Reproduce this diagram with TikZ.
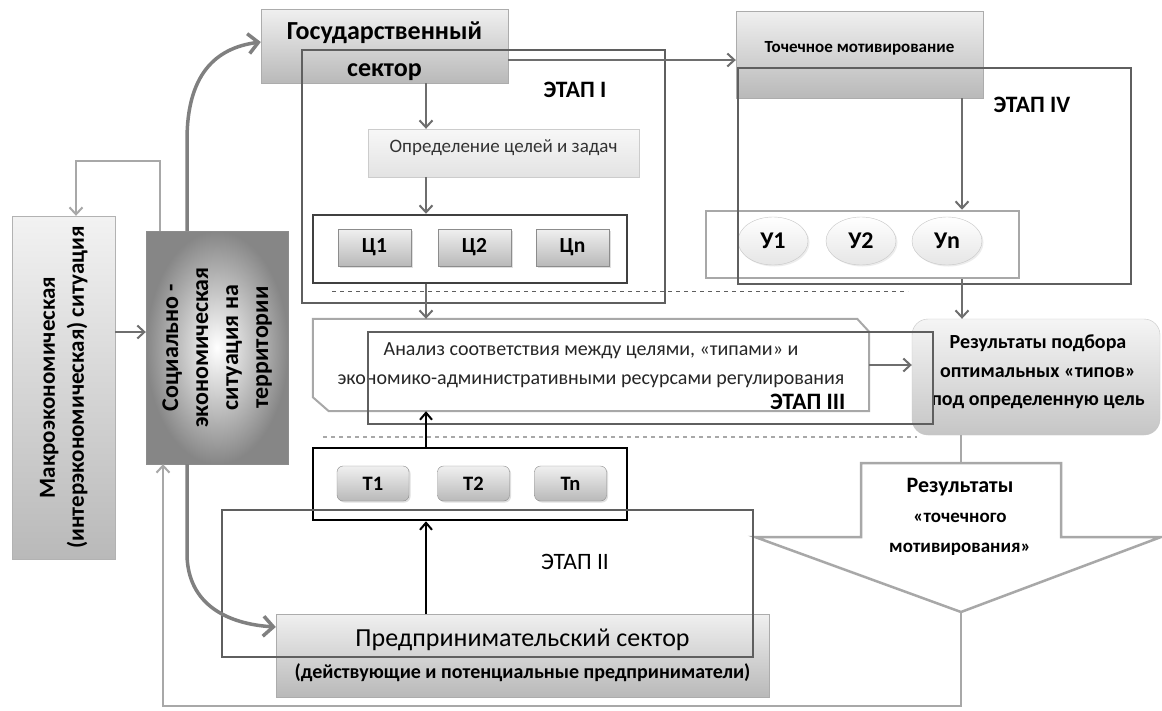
\documentclass[tikz,border=0pt]{standalone}
\usepackage{fontspec}
\setmainfont{Carlito}
\usepackage{graphicx}
\usepackage{tikz}
\usetikzlibrary{arrows.meta,shadows}
\usetikzlibrary{shapes.geometric}
\definecolor{frm}{HTML}{5F5F5F}
\definecolor{lgt}{HTML}{A8A8A8}
\definecolor{con}{HTML}{6E6E6E}
\def\stageone{(302,50) rectangle (665,303)}
\def\stagetwo{(222,510) rectangle (753,657)}
\def\stagethree{(368,332) rectangle (933,424)}
\def\stagefour{(738,68) rectangle (1131,284)}
\tikzset{
  shbox/.style={draw=gray!65, top color=gray!12, bottom color=gray!55, inner sep=0pt},
  cbox/.style={shbox, draw=gray!90, minimum width=73pt, minimum height=37pt,
    font=\bfseries\fontsize{21.5}{24}\selectfont,
    drop shadow={opacity=0.25,shadow xshift=1.5pt,shadow yshift=-1.5pt}},
  tbox/.style={cbox, rounded corners=6pt, minimum width=72pt, minimum height=35pt,
    font=\bfseries\fontsize{20.5}{24}\selectfont},
  ubox/.style={ellipse, draw=gray!45, top color=white, bottom color=gray!20, inner sep=0pt,
    minimum width=70pt, minimum height=48pt, font=\bfseries\fontsize{24}{28}\selectfont,
    drop shadow={opacity=0.15,shadow xshift=1.5pt,shadow yshift=-1.5pt}},
  stage/.style={draw=frm, line width=2.5pt},
  stagelbl/.style={font=\bfseries\fontsize{23.5}{26}\selectfont},
  conn/.style={draw=con, line width=2pt, -{Straight Barb[length=7pt,width=13pt]}},
  fback/.style={draw=lgt, line width=2pt, -{Straight Barb[length=7pt,width=13pt]}},
  bigconn/.style={draw=gray, line width=3.5pt, -{Straight Barb[length=10pt,width=20pt]}},
  blk/.style={draw=black, line width=2pt, -{Straight Barb[length=7pt,width=12pt]}}
}
\begin{document}
\begin{tikzpicture}[x=1pt,y=-1pt]
  \fill[white] (0,0) rectangle (1162,710);
  \useasboundingbox (0,0) rectangle (1162,710);

  % left column
  \node[draw=gray!60, top color=gray!10, bottom color=gray!55, minimum width=103pt,
        minimum height=343pt, inner sep=0pt, font=\bfseries\fontsize{23}{29}\selectfont]
        (mac) at (63.5,387.5)
        {\rotatebox{90}{\begin{tabular}{@{}c@{}}Макроэкономическая\\(интерэкономическая) ситуация\end{tabular}}};
  \node[draw=gray!90, inner color=white, outer color=gray!95, minimum width=142pt,
        minimum height=233pt, inner sep=0pt, font=\bfseries\fontsize{24}{30}\selectfont]
        (soc) at (217,347.5)
        {\rotatebox{90}{\begin{tabular}{@{}c@{}}Социально -\\экономическая\\ситуация на\\территории\end{tabular}}};

  % sectors
  \node[shbox, minimum width=247pt, minimum height=74pt] (gos) at (384.5,46) {};
  \node[align=center, font=\bfseries\fontsize{26}{37}\selectfont] (gostxt) at (384.5,51)
        {Государственный\\сектор};
  \node[shbox, minimum width=247pt, minimum height=87pt, text height=12pt, text depth=17pt,
        font=\bfseries\fontsize{17}{20}\selectfont] (toch) at (859.5,54.5) {Точечное мотивирование};
  \node[shbox, top color=gray!6, bottom color=gray!22, draw=gray!40, minimum width=271pt,
        minimum height=48pt, text height=13pt, text depth=14pt, text=black!80,
        font=\fontsize{19}{22}\selectfont] (def) at (503.5,153) {Определение целей и задач};
  \node[shbox, minimum width=493pt, minimum height=83pt, align=center,
        font=\bfseries\fontsize{20}{32}\selectfont] (entr) at (522.5,655.5)
        {{\mdseries\fontsize{26}{32}\selectfont Предпринимательский сектор}\\(действующие и потенциальные предприниматели)};

  % goals, types, instruments
  \node[cbox] (c1) at (374.5,247.5) {Ц1};
  \node[cbox] (c2) at (474.5,247.5) {Ц2};
  \node[cbox] (cn) at (572.5,247.5) {Цn};
  \node[draw=black!75, line width=2.5pt, minimum width=314pt, minimum height=68pt] (cgrp) at (470,249) {};
  \node[tbox] (t1) at (373,483.5) {Т1};
  \node[tbox] (t2) at (473.5,483.5) {Т2};
  \node[tbox] (tn) at (570.5,483.5) {Тn};
  \node[draw=black, line width=2.5pt, minimum width=314pt, minimum height=72pt] (tgrp) at (470,484) {};
  \node[ubox] (u1) at (773,241) {У1};
  \node[ubox] (u2) at (861,241) {У2};
  \node[ubox] (un) at (947,241) {Уn};
  \node[draw=lgt, line width=2.5pt, minimum width=313pt, minimum height=67pt] (ugrp) at (862.5,244.5) {};

  % analysis
  \node[minimum width=556pt, minimum height=92pt, inner sep=0pt, align=center, text=black!85,
        font=\fontsize{20}{29}\selectfont] (ana) at (591,365)
        {Анализ соответствия между целями, «типами» и\\экономико-административными ресурсами регулирования};
  \draw[draw=lgt, line width=2pt] (ana.north west) -- ([xshift=-12pt]ana.north east)
        -- ([yshift=-13pt]ana.north east) -- (ana.south east)
        -- ([xshift=16pt]ana.south west) -- ([yshift=14pt]ana.south west) -- cycle;
  \node[shbox, rounded corners=16pt, top color=gray!8, bottom color=gray!45, draw=gray!45,
        minimum width=248pt, minimum height=116pt] (rez) at (1036,377) {};
  \node[align=center, font=\bfseries\fontsize{20}{28.5}\selectfont] (reztxt) at (1038,372)
        {Результаты подбора\\оптимальных «типов»\\под определенную цель};

  % results arrow
  \coordinate (atop) at (961,463);
  \coordinate (atip) at (961,612);
  \draw[draw=lgt, line width=2.5pt, fill=white] (861,463) -- (1061,463) -- (1061,537)
        -- (1161,537) -- (atip) -- (755,537) -- (861,537) -- cycle;
  \node[align=center, font=\bfseries\fontsize{19}{30}\selectfont] (restxt) at (960,517)
        {{\fontsize{22}{30}\selectfont Результаты}\\«точечного\\мотивирования»};

  % stages
  \draw[stage] \stageone;
  \draw[stage] \stagetwo;
  \draw[stage] \stagethree;
  \draw[stage] \stagefour;
  \node[stagelbl] (lone) at (575,90) {ЭТАП I};
  \node[font=\fontsize{23.5}{26}\selectfont] (ltwo) at (575,562) {ЭТАП II};
  \node[stagelbl, anchor=east] (lthree) at (849,402) {ЭТАП III};
  \node[stagelbl] (lfour) at (1032,105) {ЭТАП IV};
  \draw[draw=frm, line width=1pt, dash pattern=on 4pt off 4pt] (332,291) -- (908,291);
  \draw[draw=lgt, line width=1.5pt, dash pattern=on 4pt off 4pt] (323,437) -- (917,437);

  % connectors
  \coordinate (ax) at (426,0);
  \coordinate (ux) at (962,0);
  \coordinate (ms) at (130,332);
  \coordinate (fbt) at (76,161);
  \coordinate (fbb) at (163,706);
  \draw[conn] (gos.south -| ax) -- (def.north -| ax);
  \draw[conn] (def.south -| ax) -- (cgrp.north -| ax);
  \draw[conn] (cgrp.south -| ax) -- (ana.north -| ax);
  \draw[blk] (tgrp.north -| ax) -- (ana.south -| ax);
  \draw[blk] (entr.north -| ax) -- (tgrp.south -| ax);
  \draw[conn] ([yshift=-14pt]gos.east) -- ([yshift=-14pt]gos.east -| toch.west);
  \draw[conn] (toch.south -| ux) -- (ugrp.north -| ux);
  \draw[conn] (ugrp.south -| ux) -- (rez.north -| ux);
  \draw[conn] (ana.east) -- (ana.east -| rez.west);
  \draw[draw=lgt, line width=2pt] (rez.south -| atop) -- (atop);
  \draw[conn] (mac.east |- ms) -- (soc.west |- ms);
  \draw[fback] ([xshift=-57pt]soc.north) |- (fbt) -- (fbt |- mac.north);
  \draw[fback] (atip) |- (fbb) -- (fbb |- soc.south);
  \draw[bigconn] ([xshift=-30pt]soc.north) -- (187,140) .. controls (187,75) and (215,48) .. ([yshift=4pt]gos.west);
  \draw[bigconn] ([xshift=-30pt]soc.south) -- (187,555) .. controls (188,605) and (228,624) .. ([yshift=28.5pt]entr.west);
\end{tikzpicture}
\end{document}
